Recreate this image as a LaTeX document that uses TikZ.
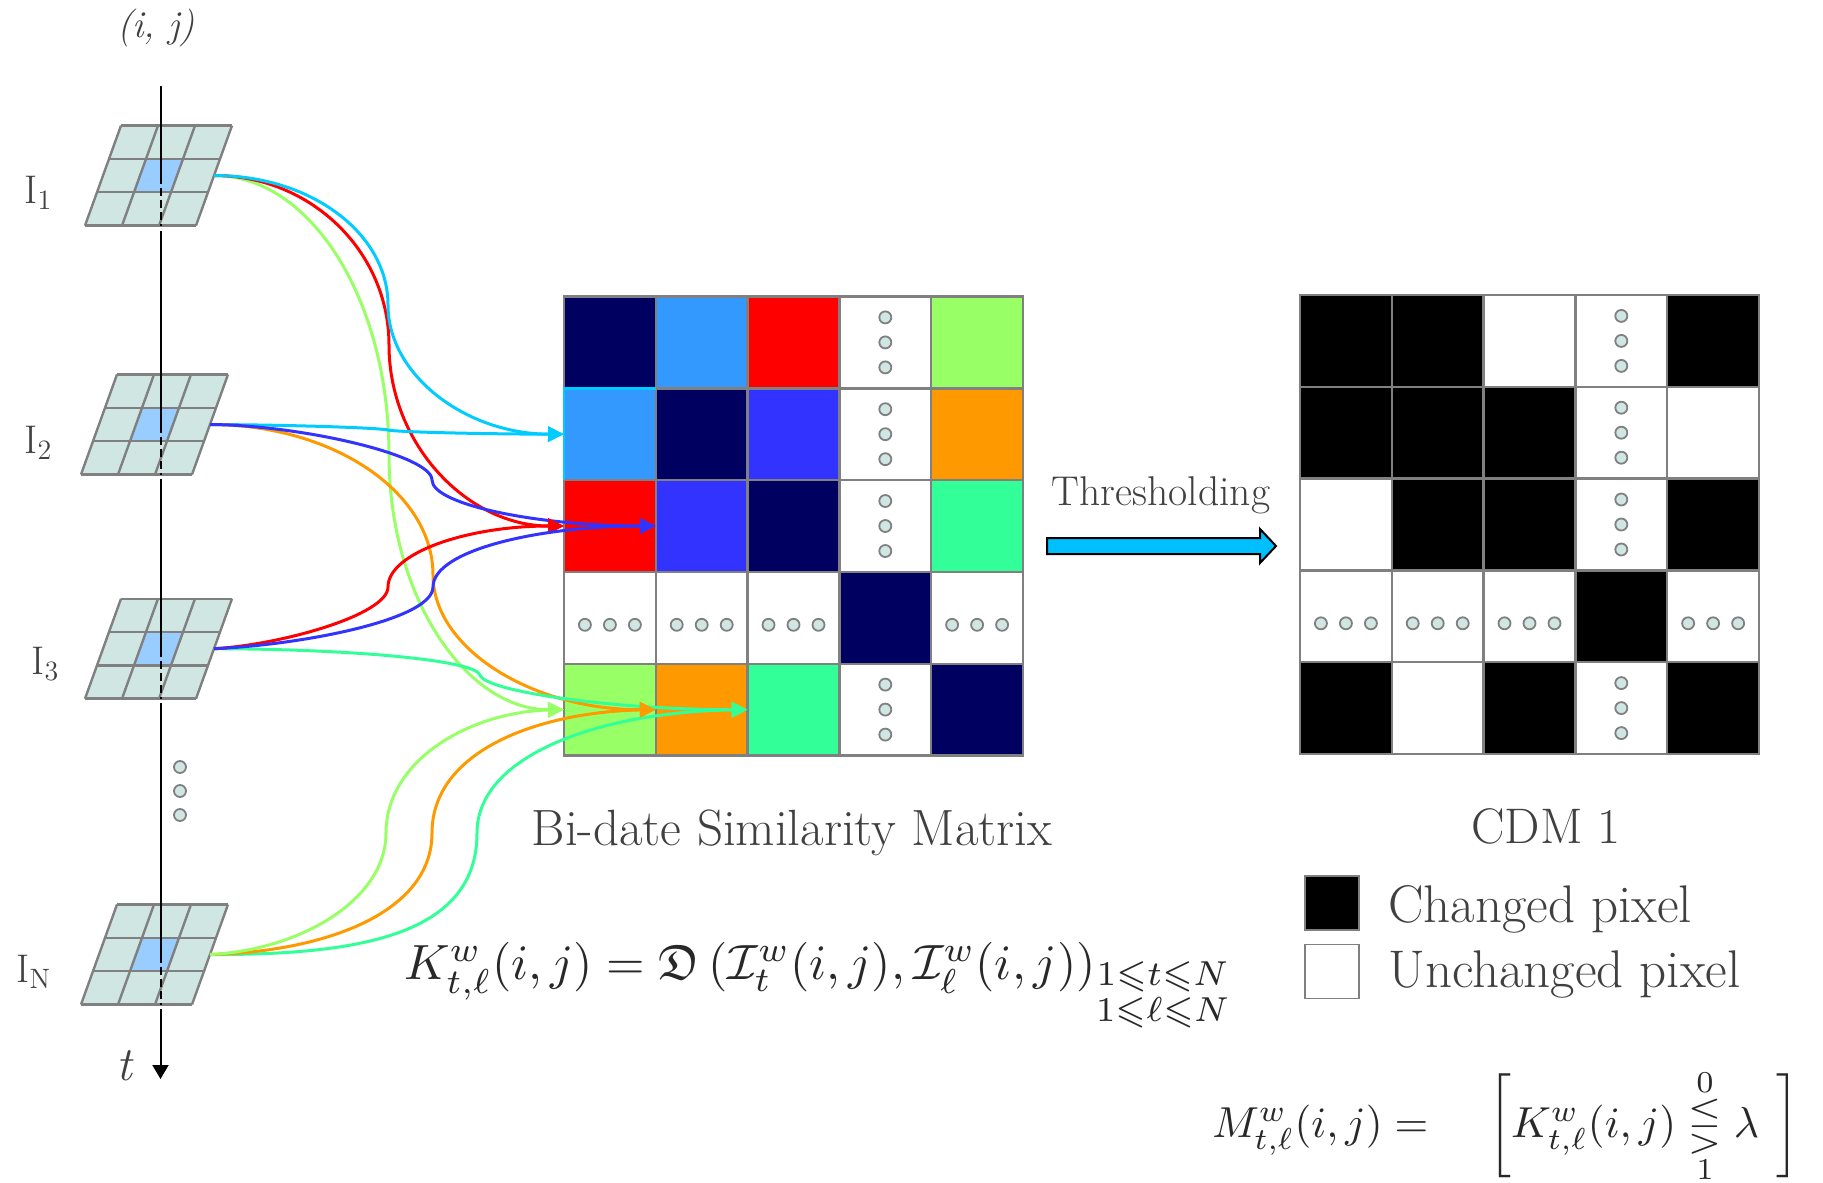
\RequirePackage{fix-cm}
\documentclass[tikz,border=0pt]{standalone}
\usepackage{amsmath,amssymb}
\usepackage{graphicx}
\usetikzlibrary{arrows.meta}

\definecolor{navy}{RGB}{0,0,96}
\definecolor{skyb}{RGB}{51,153,255}
\definecolor{pureblue}{RGB}{51,51,255}
\definecolor{lgreen}{RGB}{153,255,102}
\definecolor{orng}{RGB}{255,153,0}
\definecolor{seagrn}{RGB}{51,255,153}
\definecolor{cyanline}{RGB}{0,204,255}
\definecolor{cellfill}{RGB}{208,230,227}
\definecolor{centerfill}{RGB}{153,204,255}
\definecolor{gridgray}{RGB}{128,128,128}
\definecolor{txt}{RGB}{64,64,64}
\definecolor{eqcol}{RGB}{40,40,40}
\definecolor{arrowblue}{RGB}{0,191,255}

% threshold relation with its two outcomes stacked tightly
\newcommand{\thrrel}{\mathrel{\vcenter{\offinterlineskip\halign{\hfil$##$\hfil\cr
  \scriptstyle 0\cr\noalign{\kern1.5pt}\lesseqgtr\cr\noalign{\kern1.5pt}\scriptstyle 1\cr}}}}

\begin{document}
\begin{tikzpicture}[x=0.5pt,y=-0.5pt,
  cell/.style={draw=gridgray, line width=1.2pt, minimum size=45.9pt, inner sep=0pt, outer sep=0pt},
  ellipsisdot/.style={draw=gridgray, fill=cellfill, line width=0.9pt},
  cN/.style={fill=navy}, cS/.style={fill=skyb}, cR/.style={fill=red},
  cB/.style={fill=pureblue}, cG/.style={fill=lgreen}, cO/.style={fill=orng},
  cT/.style={fill=seagrn}, cK/.style={fill=black}, cW/.style={fill=white},
  cV/.style={fill=white, path picture={
      \foreach \k in {-1,0,1}
        \filldraw[ellipsisdot] ([yshift=\k*12.5pt]path picture bounding box.center) circle (3pt);}},
  cH/.style={fill=white, path picture={
      \foreach \k in {-1,0,1}
        \filldraw[ellipsisdot] ([xshift=\k*12.5pt,yshift=-3.5pt]path picture bounding box.center) circle (3pt);}},
  gridline/.style={draw=gridgray, line width=1.2pt},
  axisline/.style={black, line width=1pt},
  hidden/.style={axisline, dash pattern=on 4pt off 2pt},
  link/.style={line width=1.5pt, -{Triangle[length=8pt,width=7.5pt]}},
  lbl/.style={text=txt, inner sep=0pt},
  imglabel/.style={lbl, font=\fontsize{20}{24}\selectfont, anchor=base west},
  imagegrid/.pic={
    % 3x3 skewed pixel window, origin at the top-left corner
    \foreach \u in {0,1,2}
      \foreach \v in {0,1,2}
        \fill[cellfill] ({\u*37-\v*12},{\v*33.33}) -- ++(37,0) -- ++(-12,33.33) -- ++(-37,0) -- cycle;
    \fill[centerfill] (25,33.33) -- ++(37,0) -- ++(-12,33.33) -- ++(-37,0) -- cycle;
    \foreach \k in {0,...,3} {
      \draw[gridline] ({-\k*12},{\k*33.33}) -- ++(111,0);
      \draw[gridline] ({\k*37},0) -- ++(-36,100);
    }
    \coordinate (-port) at (93,50);
  },
]
% canvas
\fill[white] (0,0) rectangle (1823,1182);
\useasboundingbox (0,0) rectangle (1823,1182);

% ---------- time axis with the image stack ----------
\pic (g1) at (121,125.6) {imagegrid};
\pic (g2) at (117,374.5) {imagegrid};
\pic (g3) at (121,598.7) {imagegrid};
\pic (gN) at (117,904.5) {imagegrid};

\coordinate (axtop) at (160.5,86);
\coordinate (axtip) at (160.5,1079);
\draw[axisline] (axtop) -- (160.5,175.6);
\draw[hidden] (160.5,175.6) -- (160.5,226);
\draw[axisline] (160.5,231) -- (160.5,424.5);
\draw[hidden] (160.5,424.5) -- (160.5,475);
\draw[axisline] (160.5,479) -- (160.5,648.7);
\draw[hidden] (160.5,648.7) -- (160.5,699);
\draw[axisline] (160.5,703) -- (160.5,954.5);
\draw[hidden] (160.5,954.5) -- (160.5,1005);
\draw[axisline, -{Triangle[length=7pt,width=8pt]}] (160.5,1009) -- (axtip);

\foreach \y in {767,791,815}
  \filldraw[ellipsisdot] (180,\y) circle (3pt);

\node[lbl, font=\fontsize{19}{22}\selectfont\itshape] (ij) at (156,28) {(i, j)};
\node[imglabel] (lab1) at (24,204) {I$_1$};
\node[imglabel] (lab2) at (24,453) {I$_2$};
\node[imglabel] (lab3) at (31,674) {I$_3$};
\node[imglabel] (labN) at (16,982) {I$_{\mathrm{N}}$};
\node[lbl, font=\fontsize{24}{28}\selectfont\itshape] (tlab) at (124,1066) {t};

% ---------- bi-date similarity matrix ----------
\foreach \rowcodes [count=\r] in {{N,S,R,V,G},{S,N,B,V,O},{R,B,N,V,T},{H,H,H,N,H},{G,O,T,V,N}} {
  \foreach \code [count=\c] in \rowcodes {
    \node[cell, c\code] (A-\r-\c) at ({564+(\c-0.5)*91.8},{296.5+(\r-0.5)*91.8}) {};
  }
}
\draw[cyanline, line width=1.2pt] (A-2-1.south west) -- (A-2-1.north west) -- (A-2-1.north east);

\node[lbl, font=\fontsize{25.5}{30}\selectfont, anchor=base] (simlabel) at (792,845) {Bi-date Similarity Matrix};

% ---------- change detection map ----------
\foreach \rowcodes [count=\r] in {{K,K,W,V,K},{K,K,K,V,W},{W,K,K,V,K},{H,H,H,K,H},{K,W,K,V,K}} {
  \foreach \code [count=\c] in \rowcodes {
    \node[cell, c\code] (B-\r-\c) at ({1300+(\c-0.5)*91.8},{295+(\r-0.5)*91.8}) {};
  }
}
\node[lbl, font=\fontsize{25}{30}\selectfont, anchor=base] (cdmlabel) at (1546,843) {CDM 1};

% legend
\node[cell, cK, minimum size=27pt, line width=0.9pt] (legK) at (1332,903) {};
\node[cell, cW, minimum size=27pt, line width=0.9pt] (legW) at (1332,971.5) {};
\node[lbl, font=\fontsize{26.5}{31}\selectfont, anchor=base west] (legKtext) at (1388,922) {Changed pixel};
\node[lbl, font=\fontsize{26.5}{31}\selectfont, anchor=base west] (legWtext) at (1388,987) {Unchanged pixel};

% ---------- thresholding step ----------
\filldraw[fill=arrowblue, draw=black, line width=1pt, line join=miter]
  (1047,538) -- (1260,538) -- (1260,529) -- (1276,546) -- (1260,563) -- (1260,554) -- (1047,554) -- cycle;
\node[lbl, font=\fontsize{20.8}{25}\selectfont, anchor=base] (thr) at (1161,505) {Thresholding};

% ---------- pairwise comparisons ----------
% from I1
\draw[link, lgreen] (g1-port) .. controls (310,175) and (389,299) .. (389,455)
   .. controls (389,600) and (468,710) .. (A-5-1.west);
\draw[link, red] (g1-port) .. controls (310,175) and (389,251) .. (389,345)
   .. controls (389,445) and (468,526) .. (A-3-1.west);
\draw[link, cyanline] (g1-port) .. controls (310,175) and (388,233) .. (388,305)
   .. controls (388,376) and (467,434) .. (A-2-1.west);
% from I2
\draw[link, cyanline] (g2-port) .. controls (300,425) and (380,428) .. (388,430)
   .. controls (396,432) and (480,434) .. (A-2-1.west);
\draw[link, orng] (g2-port) .. controls (333,424.5) and (433,492) .. (433,575)
   .. controls (433,649) and (533,710) .. (A-5-2.west);
\draw[link, pureblue] (g2-port) .. controls (300,425) and (432,455) .. (432,480)
   .. controls (432,505) and (540,526) .. (A-3-2.west);
% from I3
\draw[link, seagrn] (g3-port) .. controls (350,649) and (475,660) .. (480,675)
   .. controls (485,692) and (620,710) .. (A-5-3.west);
\draw[link, red] (g3-port) .. controls (280,645) and (388,615) .. (388,587)
   .. controls (388,553) and (467,526) .. (A-3-1.west);
\draw[link, pureblue] (g3-port) .. controls (300,645) and (433,620) .. (433,587)
   .. controls (433,550) and (540,526) .. (A-3-2.west);
% from IN
\draw[link, seagrn] (gN-port) .. controls (360,955) and (477,935) .. (477,833)
   .. controls (477,755) and (600,712) .. (A-5-3.west);
\draw[link, orng] (gN-port) .. controls (320,952) and (432,915) .. (432,833)
   .. controls (432,750) and (540,712) .. (A-5-2.west);
\draw[link, lgreen] (gN-port) .. controls (300,950) and (386,900) .. (386,833)
   .. controls (386,760) and (470,712) .. (A-5-1.west);

% ---------- formulas ----------
\node[lbl, text=eqcol, anchor=base west] (eqK) at (404,979)
  {\resizebox{413.5pt}{!}{$K^{w}_{t,\ell}(i,j)=\mathfrak{D}\left(\mathcal{I}^{w}_{t}(i,j),\mathcal{I}^{w}_{\ell}(i,j)\right)_{\substack{1\leqslant t\leqslant N\\ 1\leqslant \ell\leqslant N}}$}};
\node[lbl, text=eqcol, anchor=base west] (eqM) at (1212,1137)
  {\resizebox{293.5pt}{!}{$M^{w}_{t,\ell}(i,j)=\hspace{11pt}\biggl[K^{w}_{t,\ell}(i,j)\thrrel\lambda\hspace{4pt}\biggr]$}};
\end{tikzpicture}
\end{document}
